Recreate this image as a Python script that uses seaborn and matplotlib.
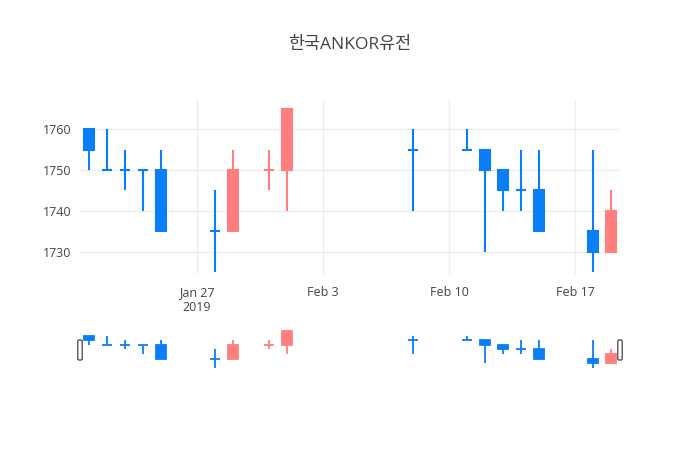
import pandas as pd
import numpy as np
import seaborn as sns
import matplotlib.pyplot as plt
import matplotlib.dates as mdates
from matplotlib.patches import FancyBboxPatch

dates = ['2019-01-21', '2019-01-22', '2019-01-23', '2019-01-24', '2019-01-25',
         '2019-01-28', '2019-01-29', '2019-01-31', '2019-02-01', '2019-02-08',
         '2019-02-11', '2019-02-12', '2019-02-13', '2019-02-14', '2019-02-15',
         '2019-02-18', '2019-02-19']
opens = [1760, 1750, 1750, 1750, 1750, 1735, 1735, 1750, 1750, 1755,
         1755, 1755, 1750, 1745, 1745, 1735, 1730]
highs = [1760, 1760, 1755, 1750, 1755, 1745, 1755, 1755, 1765, 1760,
         1760, 1755, 1750, 1755, 1755, 1755, 1745]
lows = [1750, 1750, 1745, 1740, 1735, 1725, 1735, 1745, 1740, 1740,
        1755, 1730, 1740, 1740, 1735, 1725, 1730]
closes = [1755, 1750, 1750, 1750, 1735, 1735, 1750, 1750, 1765, 1755,
          1755, 1750, 1745, 1745, 1735, 1730, 1740]
title = '한국ANKOR유전'
xticks = ['2019-01-27', '2019-02-03', '2019-02-10', '2019-02-17']
xticklabels = ['Jan 27\n2019', 'Feb 3', 'Feb 10', 'Feb 17']
yticks = [1730, 1740, 1750, 1760]

UP = '#ff7f7f'
DOWN = '#0a7ef7'

df = pd.DataFrame({'date': pd.to_datetime(dates), 'open': opens, 'high': highs,
                   'low': lows, 'close': closes})
df['x'] = mdates.date2num(df['date'])

# plotly style colouring: equal open/close follows previous close, else previous colour
colors = []
prev_close, prev_up = None, False
for o, c in zip(df['open'], df['close']):
    if c != o:
        up = c > o
    elif prev_close is not None and c != prev_close:
        up = c > prev_close
    else:
        up = prev_up
    colors.append(UP if up else DOWN)
    prev_close, prev_up = c, up
df['color'] = colors

sns.set_theme(style='white')
plt.rcParams['font.family'] = ['Open Sans', 'Noto Sans CJK KR', 'DejaVu Sans']

fig = plt.figure(figsize=(7, 4.5), dpi=100)
ax = fig.add_axes([80 / 700, (450 - 274) / 450, 540 / 700, 174 / 450])
ax_s = fig.add_axes([80 / 700, (450 - 370) / 450, 540 / 700, 41 / 450])

x0 = mdates.date2num(pd.Timestamp('2019-01-20 12:00'))
x1 = mdates.date2num(pd.Timestamp('2019-02-19 12:00'))
w = 0.6


def candles(a, lw):
    for _, r in df.iterrows():
        a.vlines(r.x, r.low, r.high, color=r.color, lw=lw, zorder=3)
        lo, hi = min(r.open, r.close), max(r.open, r.close)
        if hi > lo:
            a.bar(r.x, hi - lo, bottom=lo, width=w, color=r.color,
                  edgecolor=r.color, lw=lw, zorder=4)
        else:
            a.hlines(lo, r.x - w / 2, r.x + w / 2, color=r.color, lw=lw, zorder=4)


candles(ax, 1.5)
ax.set_xlim(x0, x1)
ax.set_ylim(1724.5, 1767.2)
ax.set_yticks(yticks)
ax.set_yticklabels([str(v) for v in yticks])
ax.set_xticks(mdates.date2num(pd.to_datetime(xticks)))
ax.set_xticklabels(xticklabels)
ax.grid(True, color='#eeeeee', lw=1)
ax.set_axisbelow(True)
ax.tick_params(axis='both', length=0, labelsize=9, colors='#444444')
ax.tick_params(axis='x', pad=9)
ax.tick_params(axis='y', pad=6)
for lab in ax.get_xticklabels():
    lab.set_linespacing(1.15)
sns.despine(ax=ax, left=True, bottom=True)

candles(ax_s, 1.3)
ax_s.set_xlim(x0, x1)
ax_s.set_ylim(1722.8, 1767.1)
ax_s.set_xticks([])
ax_s.set_yticks([])
ax_s.patch.set_alpha(0)
sns.despine(ax=ax_s, left=True, bottom=True)
for hx in (80, 620):
    fig.patches.append(FancyBboxPatch((hx - 2.2, 450 - 360), 4.4, 20,
                                      boxstyle='round,pad=0,rounding_size=1.2',
                                      transform=None, facecolor='white',
                                      edgecolor='#444444', lw=0.9, zorder=5))

fig.text(350 / 700, 1 - 45 / 450, title, ha='center', va='center',
         fontsize=12.5, color='#444444')

fig.savefig('out.png', dpi=100)
